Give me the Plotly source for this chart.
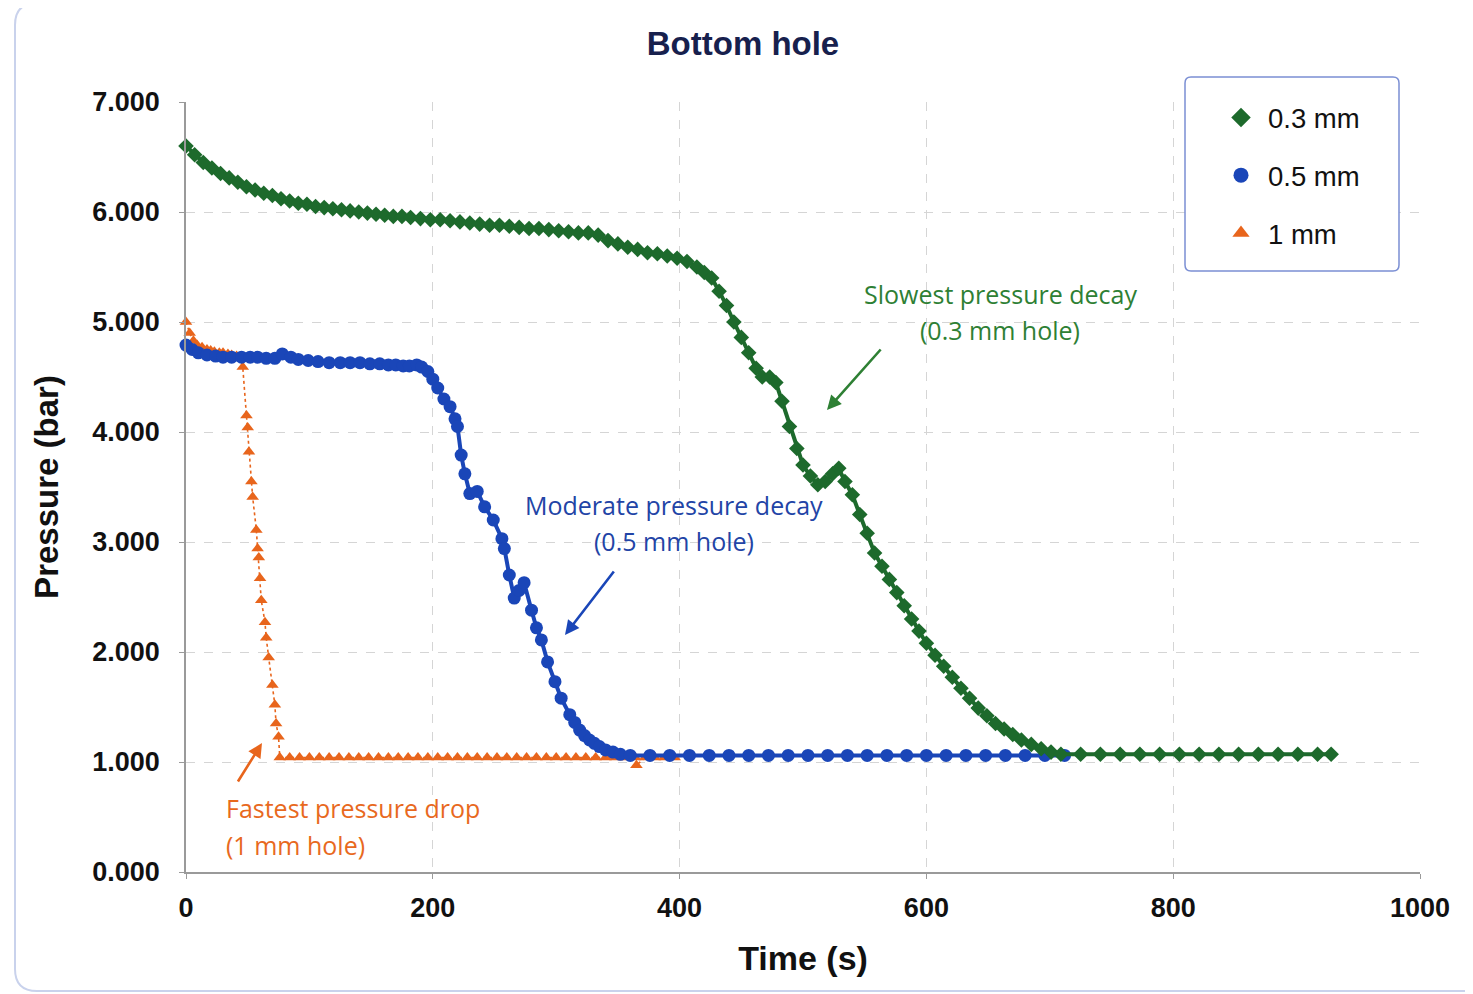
import plotly.graph_objects as go

# ---------------- data ----------------
t_03 = [0, 7, 14, 21, 28, 35, 42, 49, 56, 63, 70, 77, 84, 91, 98, 105, 112, 119, 126, 133,
        140, 147, 154, 161, 168, 175, 182, 190, 198, 206, 214, 222, 230, 238, 246, 254, 262,
        270, 278, 286, 294, 302, 310, 318, 326, 334, 342, 350, 358, 366, 374, 382, 390, 398,
        406, 414, 420, 426, 432, 438, 444, 450, 456, 462, 467, 473, 478, 483, 489, 495, 500,
        506, 512, 518, 524, 529, 534, 540, 546, 552, 558, 564, 570, 576, 582, 588, 594, 600,
        607, 614, 621, 628, 635, 642, 649, 656, 663, 670, 677, 685, 693, 701, 709, 725, 741,
        757, 773, 789, 805, 821, 837, 853, 869, 885, 901, 917, 928]
p_03 = [6.60, 6.52, 6.45, 6.40, 6.35, 6.31, 6.27, 6.23, 6.20, 6.17, 6.15, 6.12, 6.10, 6.08,
        6.07, 6.05, 6.04, 6.03, 6.02, 6.01, 6.00, 5.99, 5.98, 5.97, 5.96, 5.96, 5.95, 5.94,
        5.93, 5.93, 5.92, 5.91, 5.90, 5.89, 5.88, 5.88, 5.87, 5.86, 5.85, 5.85, 5.84, 5.83,
        5.82, 5.81, 5.81, 5.79, 5.74, 5.71, 5.68, 5.66, 5.63, 5.62, 5.60, 5.58, 5.55, 5.50,
        5.45, 5.40, 5.28, 5.15, 5.00, 4.86, 4.72, 4.58, 4.50, 4.50, 4.45, 4.28, 4.05, 3.85,
        3.70, 3.60, 3.52, 3.55, 3.62, 3.67, 3.55, 3.43, 3.25, 3.08, 2.90, 2.78, 2.66, 2.54,
        2.42, 2.30, 2.19, 2.08, 1.97, 1.87, 1.77, 1.67, 1.58, 1.49, 1.42, 1.35, 1.30, 1.25,
        1.20, 1.16, 1.12, 1.09, 1.07, 1.07, 1.07, 1.07, 1.07, 1.07, 1.07, 1.07, 1.07, 1.07,
        1.07, 1.07, 1.07, 1.07, 1.07]

t_05 = [0, 5, 10, 17, 24, 30, 37, 45, 52, 58, 65, 72, 78, 85, 91, 99, 107, 116, 125, 133,
        141, 149, 157, 164, 170, 176, 181, 187, 191, 196, 200, 204, 209, 214, 218, 220, 223,
        226, 230, 236, 242, 249, 256, 258, 262, 266, 270, 274, 280, 284, 288, 293, 299, 304,
        311, 315, 319, 323, 327, 331, 335, 340, 346, 352, 360, 376, 392, 408, 424, 440, 456,
        472, 488, 504, 520, 536, 552, 568, 584, 600, 616, 632, 648, 664, 680, 696, 712]
p_05 = [4.79, 4.75, 4.72, 4.70, 4.69, 4.68, 4.68, 4.68, 4.68, 4.68, 4.67, 4.67, 4.71, 4.68,
        4.66, 4.65, 4.64, 4.63, 4.63, 4.63, 4.63, 4.62, 4.62, 4.61, 4.61, 4.60, 4.60, 4.61,
        4.59, 4.55, 4.48, 4.40, 4.30, 4.23, 4.12, 4.05, 3.79, 3.62, 3.44, 3.46, 3.32, 3.20,
        3.03, 2.94, 2.70, 2.49, 2.56, 2.63, 2.38, 2.22, 2.11, 1.91, 1.73, 1.58, 1.43, 1.36,
        1.29, 1.24, 1.20, 1.17, 1.14, 1.11, 1.09, 1.07, 1.06, 1.06, 1.06, 1.06, 1.06, 1.06,
        1.06, 1.06, 1.06, 1.06, 1.06, 1.06, 1.06, 1.06, 1.06, 1.06, 1.06, 1.06, 1.06, 1.06,
        1.06, 1.06, 1.06]

t_1 = [0, 3, 6, 9, 13, 17, 20, 23, 27, 30, 34, 37, 41, 45, 46, 49, 50, 51, 53, 54, 57, 58,
       59, 60, 61, 64, 65, 67, 70, 72, 73, 75, 76, 84, 92, 100, 108, 116, 124, 132, 140, 148,
       156, 164, 172, 180, 188, 196, 204, 212, 220, 228, 236, 244, 252, 260, 268, 276, 284,
       292, 300, 308, 316, 324, 332, 340, 348, 356, 364, 365, 372, 380, 388, 396]
p_1 = [5.00, 4.90, 4.83, 4.79, 4.77, 4.75, 4.74, 4.73, 4.72, 4.72, 4.71, 4.70, 4.69, 4.68,
       4.59, 4.15, 4.04, 3.82, 3.55, 3.41, 3.11, 2.94, 2.86, 2.67, 2.47, 2.27, 2.13, 1.95,
       1.70, 1.52, 1.35, 1.23, 1.04, 1.04, 1.04, 1.04, 1.04, 1.04, 1.04, 1.04, 1.04, 1.04,
       1.04, 1.04, 1.04, 1.04, 1.04, 1.04, 1.04, 1.04, 1.04, 1.04, 1.04, 1.04, 1.04, 1.04,
       1.04, 1.04, 1.04, 1.04, 1.04, 1.04, 1.04, 1.04, 1.04, 1.04, 1.04, 1.04, 1.04, 0.97,
       1.04, 1.04, 1.04, 1.04]

series_names = ["0.3 mm", "0.5 mm", "1 mm"]
y_ticks = [0, 1, 2, 3, 4, 5, 6, 7]
y_tick_labels = ["0.000", "1.000", "2.000", "3.000", "4.000", "5.000", "6.000", "7.000"]
x_ticks = [0, 200, 400, 600, 800, 1000]

# ---------------- style ----------------
GREEN = "#1d6a2c"
BLUE = "#1a46b8"
ORANGE = "#e8651c"
GREEN_TXT = "#2e8034"
BLUE_TXT = "#2244a6"
ORANGE_TXT = "#e8691e"
OFF = 8                       # page body margin
W, H = 1473, 994
# target plot area in page pixels: x 186..1420, y 102..872
L, R, T, B = 186 - OFF, W - 1420 + OFF, 102 - OFF, H - 872 + OFF
PW, PH = W - L - R, H - T - B


def px2data(px, py):
    return (px - 186) / PW * 1000.0, (872 - py) / PH * 7.0


def px2paper(px, py):
    return (px - 186) / PW, (872 - py) / PH


fig = go.Figure()

fig.add_trace(go.Scatter(x=t_1, y=p_1, mode="lines+markers", name=series_names[2],
                         line=dict(color=ORANGE, width=1.6, dash="dot"),
                         marker=dict(symbol="triangle-up", size=11, color=ORANGE),
                         showlegend=False, cliponaxis=False))
fig.add_trace(go.Scatter(x=t_05, y=p_05, mode="lines+markers", name=series_names[1],
                         line=dict(color=BLUE, width=4),
                         marker=dict(symbol="circle", size=13, color=BLUE),
                         showlegend=False, cliponaxis=False))
fig.add_trace(go.Scatter(x=t_03, y=p_03, mode="lines+markers", name=series_names[0],
                         line=dict(color=GREEN, width=4),
                         marker=dict(symbol="diamond", size=12, color=GREEN),
                         showlegend=False, cliponaxis=False))

# legend-only entries (markers only, as in reference)
for i, (nm, sym, col) in enumerate(zip(series_names, ["diamond", "circle", "triangle-up"],
                                       [GREEN, BLUE, ORANGE])):
    fig.add_trace(go.Scatter(x=[None], y=[None], mode="markers", name=nm,
                             marker=dict(symbol=sym, size=15, color=col),
                             legendgroup="g%d" % i, showlegend=True))


def rounded_rect(x0, y0, x1, y1, r):
    (ax0, ay0) = px2paper(x0, y0)
    (ax1, ay1) = px2paper(x1, y1)
    rx = r / PW
    ry = r / PH
    return (f"M {ax0+rx},{ay0} L {ax1-rx},{ay0} Q {ax1},{ay0} {ax1},{ay0-ry} "
            f"L {ax1},{ay1+ry} Q {ax1},{ay1} {ax1-rx},{ay1} L {ax0+rx},{ay1} "
            f"Q {ax0},{ay1} {ax0},{ay1+ry} L {ax0},{ay0-ry} Q {ax0},{ay0} {ax0+rx},{ay0} Z")


shapes = [
    dict(type="path", xref="paper", yref="paper", path=rounded_rect(15, 3, 1500, 991, 22),
         line=dict(color="#c9d2ec", width=2), layer="below"),
    dict(type="path", xref="paper", yref="paper", path=rounded_rect(1185, 77, 1399, 271, 6),
         line=dict(color="#7b8fd4", width=1.5), fillcolor="white", layer="above"),
]

annotations = []
FONT_ANN = "Open Sans, Noto Sans, sans-serif"
for (txt, px, py, col, anchor) in [
    ("Slowest pressure decay", 1000, 294, GREEN_TXT, "center"),
    ("(0.3 mm hole)", 1000, 330, GREEN_TXT, "center"),
    ("Moderate pressure decay", 674, 505, BLUE_TXT, "center"),
    ("(0.5 mm hole)", 674, 541, BLUE_TXT, "center"),
    ("Fastest pressure drop", 224, 808, ORANGE_TXT, "left"),
    ("(1 mm hole)", 224, 845, ORANGE_TXT, "left"),
]:
    x, y = px2data(px, py)
    annotations.append(dict(x=x, y=y, xref="x", yref="y", text=txt, showarrow=False,
                            xanchor=anchor, yanchor="middle",
                            font=dict(family=FONT_ANN, size=25, color=col, weight=500)))

for (tx, ty, hx, hy, col) in [
    (882, 348, 827, 410, GREEN_TXT),
    (615, 570, 565, 635, BLUE),
    (237, 783, 262, 743, ORANGE),
]:
    x0, y0 = px2data(tx, ty)
    x1, y1 = px2data(hx, hy)
    annotations.append(dict(x=x1, y=y1, ax=x0, ay=y0, xref="x", yref="y", axref="x", ayref="y",
                            text="", showarrow=True, arrowhead=2, arrowsize=1.1,
                            arrowwidth=2.6, arrowcolor=col))

SANS = "Liberation Sans, Arial, sans-serif"
TICK_FONT = dict(family=SANS, size=27, color="#111111", weight="bold")

fig.update_layout(
    width=W, height=H,
    margin=dict(l=L, r=R, t=T, b=B, autoexpand=False),
    paper_bgcolor="white", plot_bgcolor="white",
    title=dict(text="Bottom hole", x=(743 - OFF) / W, xanchor="center",
               y=1 - (43 - OFF) / H, yanchor="middle",
               font=dict(family=SANS, size=33, color="#17204d", weight="bold")),
    xaxis=dict(range=[0, 1000], tickvals=x_ticks, showgrid=True, gridcolor="#d5d5d5",
               griddash="dash", gridwidth=1, zeroline=False, showline=True,
               linecolor="#9a9a9a", linewidth=1.5, ticks="outside", ticklen=5,
               tickcolor="#9a9a9a", tickfont=TICK_FONT, ticklabelstandoff=6,
               title=dict(text="Time (s)", standoff=24,
                          font=dict(family=SANS, size=34, color="#111111", weight="bold"))),
    yaxis=dict(range=[0, 7], tickvals=y_ticks, ticktext=y_tick_labels, showgrid=True,
               gridcolor="#d5d5d5", griddash="dash", gridwidth=1, zeroline=False,
               showline=True, linecolor="#9a9a9a", linewidth=1.5, ticks="outside",
               ticklen=5, tickcolor="#9a9a9a", tickfont=TICK_FONT, ticklabelstandoff=14,
               title=dict(text="Pressure (bar)", standoff=24,
                          font=dict(family=SANS, size=33, color="#111111", weight="bold"))),
    legend=dict(x=px2paper(1214, 0)[0], xanchor="left", y=px2paper(0, 93)[1], yanchor="top",
                bgcolor="rgba(0,0,0,0)", borderwidth=0, tracegroupgap=19, itemwidth=44,
                font=dict(family=SANS, size=27.5, color="#111111")),
    shapes=shapes,
    annotations=annotations,
)

fig.write_html("out.html")
